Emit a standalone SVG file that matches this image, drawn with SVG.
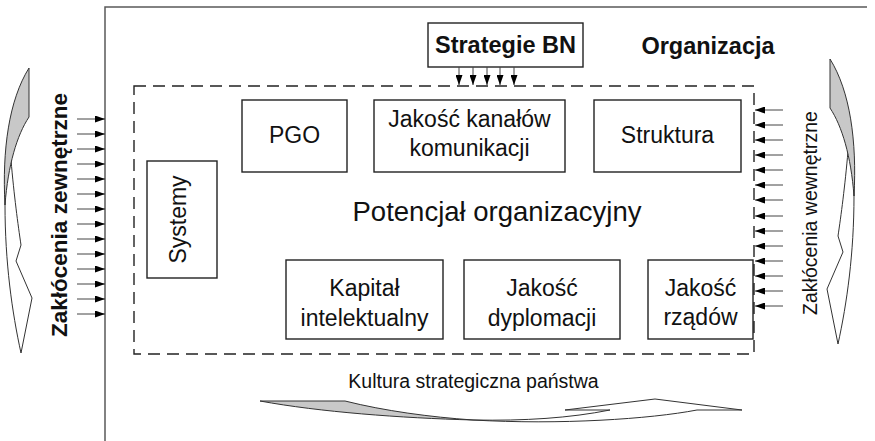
<svg xmlns="http://www.w3.org/2000/svg" width="875" height="441" viewBox="0 0 875 441">
<style>
  .frame{fill:none;stroke:#5a5a5a;stroke-width:1.5}
  .dash{fill:none;stroke:#222;stroke-width:1.4;stroke-dasharray:12 7}
  .box{fill:#fff;stroke:#222;stroke-width:1.4}
  .t{font-family:"Liberation Sans",Arial,sans-serif;font-size:23px;fill:#111;text-anchor:middle}
  .b{font-family:"Liberation Sans",Arial,sans-serif;font-weight:bold;fill:#111;text-anchor:middle}
  .shaft{stroke:#444;stroke-width:1;fill:none}
  .blk{stroke:#333;stroke-width:1;stroke-linejoin:round}
  .g{fill:#c8c8c8}
  .w{fill:#fff}
</style>
<defs>
  <marker id="ah" viewBox="0 0 10 7" refX="10" refY="3.5" markerWidth="10" markerHeight="7" markerUnits="userSpaceOnUse" orient="auto">
    <path d="M0,0 L10,3.5 L0,7 Z" fill="#000"/>
  </marker>
  <g id="curved">
    <path class="blk w" d="M11,160 C14,195 18,225 21,245 L16,261 L32,298 L21,353 C12,312 5,262 5,205 C5,188 7,172 11,160 Z"/>
    <path class="blk g" d="M29,68 L29,117 C17,135 8,165 5,205 C2,150 9,100 29,68 Z"/>
  </g>
</defs>

<g id="frame">
  <path class="frame" d="M105,441 L105,7 L867,7"/>
</g>

<g id="potencjal">
  <rect class="dash" x="134" y="86" width="620" height="268"/>
  <text class="t" x="497" y="221" style="font-size:27.5px">Potencjał organizacyjny</text>
</g>

<g id="organizacja-label">
  <text class="b" x="708" y="54" style="font-size:23.5px">Organizacja</text>
</g>

<g id="strategie">
  <rect class="box" x="428" y="23" width="155" height="44"/>
  <text class="b" x="505.5" y="53" style="font-size:23.5px">Strategie BN</text>
</g>

<g id="pgo">
  <rect class="box" x="242" y="100" width="105" height="72"/>
  <text class="t" x="294.5" y="143">PGO</text>
</g>

<g id="kanaly">
  <rect class="box" x="374" y="100" width="191" height="72"/>
  <text class="t" x="469.5" y="127">Jakość kanałów</text>
  <text class="t" x="469.5" y="156">komunikacji</text>
</g>

<g id="struktura">
  <rect class="box" x="594" y="100" width="147" height="72"/>
  <text class="t" x="667.5" y="143">Struktura</text>
</g>

<g id="systemy">
  <rect class="box" x="147" y="161" width="70" height="117"/>
  <text class="t" transform="translate(186,219.5) rotate(-90)">Systemy</text>
</g>

<g id="kapital">
  <rect class="box" x="286" y="260" width="157" height="79"/>
  <text class="t" x="364.5" y="296">Kapitał</text>
  <text class="t" x="364.5" y="326">intelektualny</text>
</g>

<g id="dyplomacja">
  <rect class="box" x="464" y="260" width="156" height="79"/>
  <text class="t" x="542" y="296">Jakość</text>
  <text class="t" x="542" y="326">dyplomacji</text>
</g>

<g id="rzady">
  <rect class="box" x="648" y="260" width="105" height="79"/>
  <text class="t" x="700.5" y="296">Jakość</text>
  <text class="t" x="700.5" y="325">rządów</text>
</g>

<g id="zewnetrzne">
  <use href="#curved"/>
  <text class="b" transform="translate(67,215) rotate(-90)" style="font-size:22.5px">Zakłócenia zewnętrzne</text>
</g>

<g id="wewnetrzne">
  <use href="#curved" transform="translate(859,-9) scale(-1,1)"/>
  <text class="t" transform="translate(817,213) rotate(-90)" style="font-size:19.5px">Zakłócenia wewnętrzne</text>
</g>

<g id="kultura">
  <path class="blk g" d="M260,401 L345,401 C385,411 430,417 473,420 C400,418 320,412 260,401 Z"/>
  <path class="blk w" d="M473,420 C525,421 570,418 610,410 L565,410 L655,399 L742,410 L697,410 C650,419 560,425 473,420 Z"/>
  <text class="t" x="473.5" y="388" style="font-size:19.5px">Kultura strategiczna państwa</text>
</g>

<g id="connectors">
  <g class="shaft" marker-end="url(#ah)">
    <line x1="459" y1="67" x2="459" y2="85"/>
    <line x1="473" y1="67" x2="473" y2="85"/>
    <line x1="487" y1="67" x2="487" y2="85"/>
    <line x1="500" y1="67" x2="500" y2="85"/>
    <line x1="514" y1="67" x2="514" y2="85"/>
  </g>
  <g class="shaft" marker-end="url(#ah)">
    <line x1="77" y1="119" x2="105" y2="119"/>
    <line x1="77" y1="134" x2="105" y2="134"/>
    <line x1="77" y1="149" x2="105" y2="149"/>
    <line x1="77" y1="164" x2="105" y2="164"/>
    <line x1="77" y1="179" x2="105" y2="179"/>
    <line x1="77" y1="194" x2="105" y2="194"/>
    <line x1="77" y1="209" x2="105" y2="209"/>
    <line x1="77" y1="224" x2="105" y2="224"/>
    <line x1="77" y1="239" x2="105" y2="239"/>
    <line x1="77" y1="254" x2="105" y2="254"/>
    <line x1="77" y1="269" x2="105" y2="269"/>
    <line x1="77" y1="284" x2="105" y2="284"/>
    <line x1="77" y1="299" x2="105" y2="299"/>
    <line x1="77" y1="314" x2="105" y2="314"/>
  </g>
  <g class="shaft" marker-end="url(#ah)">
    <line x1="783" y1="110" x2="755" y2="110"/>
    <line x1="783" y1="125" x2="755" y2="125"/>
    <line x1="783" y1="140" x2="755" y2="140"/>
    <line x1="783" y1="155" x2="755" y2="155"/>
    <line x1="783" y1="170" x2="755" y2="170"/>
    <line x1="783" y1="185" x2="755" y2="185"/>
    <line x1="783" y1="200" x2="755" y2="200"/>
    <line x1="783" y1="216" x2="755" y2="216"/>
    <line x1="783" y1="231" x2="755" y2="231"/>
    <line x1="783" y1="246" x2="755" y2="246"/>
    <line x1="783" y1="261" x2="755" y2="261"/>
    <line x1="783" y1="276" x2="755" y2="276"/>
    <line x1="783" y1="291" x2="755" y2="291"/>
    <line x1="783" y1="306" x2="755" y2="306"/>
  </g>
</g>
</svg>
